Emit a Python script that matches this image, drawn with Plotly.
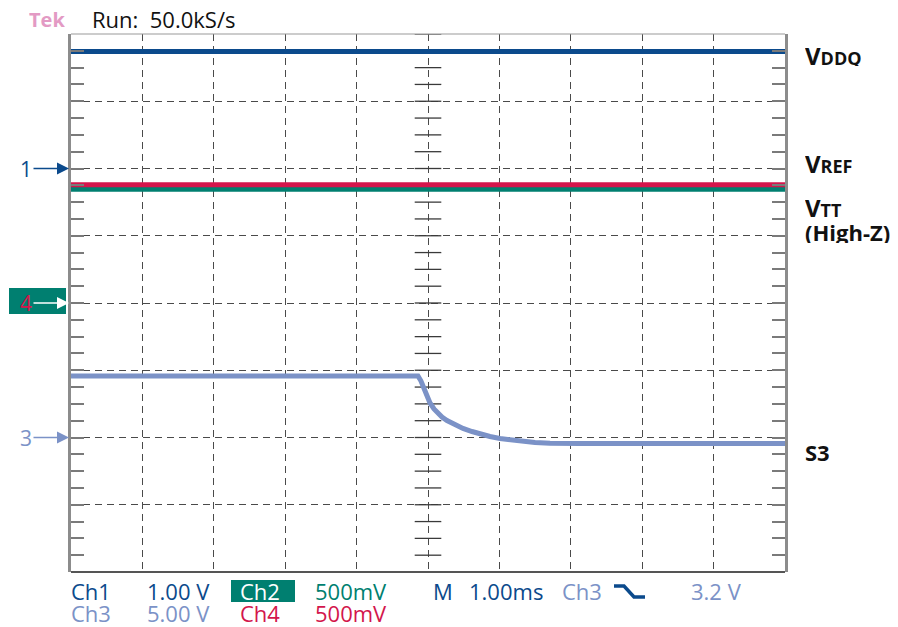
import numpy as np
import plotly.graph_objects as go

# Time axis in ms (1.00 ms/div, 10 divisions), vertical axis in screen divisions
t_range = [-5.0, 5.0]
v_range = [-4.0, 4.0]

# Flat supply rails (screen divisions)
vddq_t = [-5.0, 5.0]
vddq_v = [3.74, 3.74]
vref_t = [-5.0, 5.0]
vref_v = [1.76, 1.76]
vtt_t = [-5.0, 5.0]
vtt_v = [1.69, 1.69]

# S3 signal on Ch3: high level, falling edge after trigger, settles low
s3_t = [-5.0, -0.140, -0.098, -0.056, -0.014, 0.028, 0.084, 0.140, 0.196, 0.266, 0.378,
        0.490, 0.616, 0.728, 0.868, 1.008, 1.148, 1.289, 1.499, 1.709, 2.129, 5.0]
s3_v = [-1.086, -1.086, -1.160, -1.264, -1.383, -1.487, -1.576, -1.643, -1.695, -1.747, -1.814,
        -1.866, -1.911, -1.948, -1.985, -2.015, -2.037, -2.059, -2.074, -2.085, -2.089, -2.089]

# Channel ground markers (divisions)
ch1_ref = 2.0
ch24_ref = 0.0
ch3_ref = -2.0

DARK_BLUE = "#0b4a8c"
RED = "#d3164c"
TEAL = "#007f70"
CH3_BLUE = "#7b92c7"
TEK_PINK = "#e39ac4"
FONT = "Open Sans"

W, H = 898, 627
L, R, T, B = 71, 113, 34, 55
PW, PH = W - L - R, H - T - B


def px(x):
    return (x - L) / PW


def py(y):
    return (H - B - y) / PH


fig = go.Figure()

# graticule minor marks along the centre vertical line
minor = np.arange(-4.0, 4.001, 0.25)
fig.add_trace(go.Scatter(
    x=[0.0] * len(minor), y=minor, mode="markers",
    marker=dict(symbol="line-ew", size=19, line=dict(width=1.3, color="#3a3a3a")),
    hoverinfo="skip", showlegend=False))

fig.add_trace(go.Scatter(x=vddq_t, y=vddq_v, mode="lines",
                         line=dict(color=DARK_BLUE, width=5), showlegend=False))
fig.add_trace(go.Scatter(x=vtt_t, y=vtt_v, mode="lines",
                         line=dict(color=TEAL, width=5), showlegend=False))
fig.add_trace(go.Scatter(x=vref_t, y=vref_v, mode="lines",
                         line=dict(color=RED, width=5), showlegend=False))
fig.add_trace(go.Scatter(x=s3_t, y=s3_v, mode="lines",
                         line=dict(color=CH3_BLUE, width=5), showlegend=False))

fig.update_xaxes(range=t_range, dtick=1, showgrid=True, gridcolor="#4a4a4a",
                 gridwidth=1, griddash="7px,5px", zeroline=False,
                 showticklabels=False, ticks="", showline=False, fixedrange=True)
fig.update_yaxes(range=v_range, dtick=1, showgrid=True, gridcolor="#4a4a4a",
                 gridwidth=1, griddash="7px,5px", zeroline=False,
                 showticklabels=False, ticks="inside", ticklen=13, tickwidth=1.5,
                 tickcolor="#7a7a7a",
                 minor=dict(dtick=0.25, ticks="inside", ticklen=13, tickwidth=1.5,
                            tickcolor="#7a7a7a", showgrid=False),
                 showline=True, linecolor="#8c8c8c", linewidth=3, mirror="ticks",
                 fixedrange=True)

shapes = [
    # top and bottom frame edges
    dict(type="line", xref="paper", yref="paper", x0=0, x1=1, y0=1, y1=1,
         line=dict(color="#9a9a9a", width=1.2), layer="above"),
    dict(type="line", xref="paper", yref="paper", x0=0, x1=1, y0=0, y1=0,
         line=dict(color="#555555", width=2), layer="above"),
    # Ch2 / Ch4 ground marker box
    dict(type="rect", xref="paper", yref="paper", x0=px(9), x1=px(66), y0=py(314), y1=py(288),
         fillcolor=TEAL, line=dict(width=0), layer="above"),
    # Ch2 label box in the readout
    dict(type="rect", xref="paper", yref="paper", x0=px(231), x1=px(295), y0=py(602), y1=py(580),
         fillcolor=TEAL, line=dict(width=0), layer="above"),
    # falling-edge trigger glyph
    dict(type="path", xref="paper", yref="paper",
         path=f"M {px(614)},{py(586)} L {px(624)},{py(586)} L {px(634)},{py(597)} L {px(645)},{py(597)}",
         line=dict(color=DARK_BLUE, width=3.5), layer="above"),
]

ann = []


def text(x, y, s, color, size=22, anchor="left"):
    ann.append(dict(xref="paper", yref="paper", x=px(x), y=py(y), text=s,
                    showarrow=False, xanchor=anchor, yanchor="middle", borderpad=0,
                    height=20, valign="middle",
                    font=dict(family=FONT, size=size, color=color)))


# header
text(28, 19, "<b>Tek</b>", TEK_PINK, size=20)
text(91, 19, "Run:&nbsp;&nbsp;50.0kS/s", "#111111", size=22)

# readout lines
text(70, 591, "Ch1", DARK_BLUE)
text(146, 591, "1.00 V", DARK_BLUE)
text(239, 591, "Ch2", "white")
text(314, 591, "500mV", TEAL)
text(432, 591, "M", DARK_BLUE)
text(468, 591, "1.00ms", DARK_BLUE)
text(561, 591, "Ch3", CH3_BLUE)
text(690, 591, "3.2 V", CH3_BLUE)
text(70, 613, "Ch3", CH3_BLUE)
text(146, 613, "5.00 V", CH3_BLUE)
text(239, 613, "Ch4", RED)
text(314, 613, "500mV", RED)


# right-side trace labels
def sc(big, small):
    return f"<b><span style='font-size:24px'>{big}</span><span style='font-size:18px'>{small}</span></b>"


for label, yv in [(sc("V", "DDQ"), 3.69), (sc("V", "REF"), 2.08), (sc("V", "TT"), 1.43),
                  ("<b>(High-Z)</b>", 1.06), ("<b>S3</b>", -2.215)]:
    ann.append(dict(xref="paper", yref="y", x=1, xshift=19, y=yv, text=label,
                    showarrow=False, xanchor="left", yanchor="middle", borderpad=0,
                    height=22, valign="middle",
                    font=dict(family=FONT, size=22, color="#111111")))

# channel ground markers with arrows
for lab, yv, col, acol in [("1", ch1_ref, DARK_BLUE, DARK_BLUE),
                           ("<span style='color:%s'>4</span>" % RED, ch24_ref, RED, "white"),
                           ("3", ch3_ref, CH3_BLUE, CH3_BLUE)]:
    ann.append(dict(xref="x", yref="y", x=-5, y=yv, xshift=-1, text=lab,
                    showarrow=True, ax=-44, ay=0, arrowhead=2, arrowsize=1.6,
                    arrowwidth=1.5, arrowcolor=acol, standoff=1, startstandoff=0,
                    font=dict(family=FONT, size=21, color=col)))

fig.update_layout(
    width=W, height=H, margin=dict(l=L, r=R, t=T, b=B),
    paper_bgcolor="white", plot_bgcolor="white",
    shapes=shapes, annotations=ann, showlegend=False,
    font=dict(family=FONT),
)

fig.write_html("out.html")
